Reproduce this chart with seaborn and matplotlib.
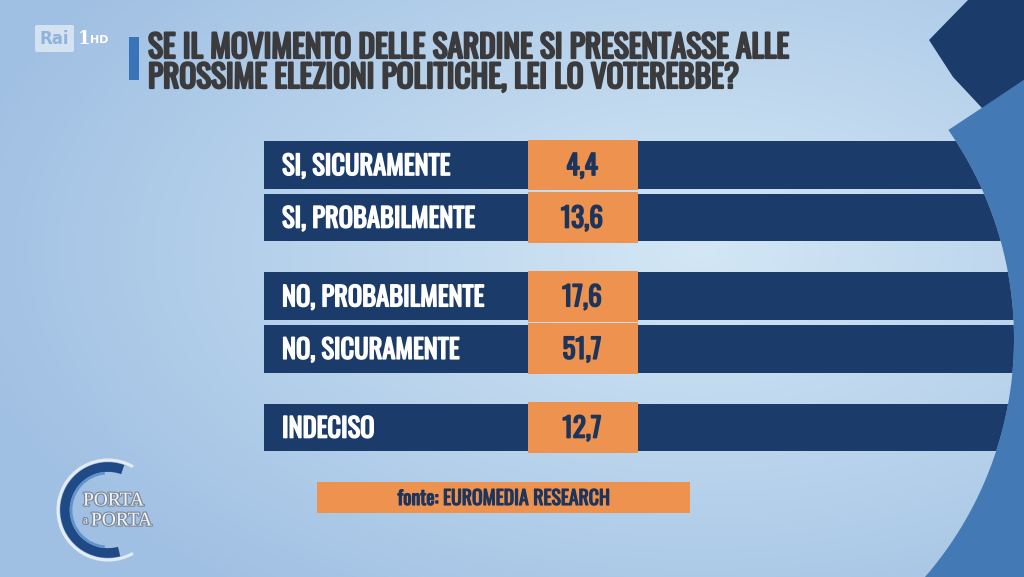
import numpy as np
import matplotlib
matplotlib.use("Agg")
import matplotlib.pyplot as plt
from matplotlib.patches import Rectangle, Polygon, Arc, FancyBboxPatch
from matplotlib.colors import to_rgb
import matplotlib.patheffects as pe
import seaborn as sns
import pandas as pd

# ---------------- data ----------------
categories = ["SI, SICURAMENTE", "SI, PROBABILMENTE", "NO, PROBABILMENTE",
              "NO, SICURAMENTE", "INDECISO"]
groups = ["SI", "SI", "NO", "NO", "INDECISO"]
values = [4.4, 13.6, 17.6, 51.7, 12.7]
title_lines = ["SE IL MOVIMENTO DELLE SARDINE SI PRESENTASSE ALLE",
               "PROSSIME ELEZIONI POLITICHE, LEI LO VOTEREBBE?"]
source = "fonte: EUROMEDIA RESEARCH"

# ---------------- style ----------------
NAVY = "#1b3b6b"
ORANGE = "#ee924f"
MIDBLUE = "#4379b4"
VALUE_TXT = "#1d355c"
TITLE_TXT = "#3b3b3d"

sns.set_theme(style="white")
COND = ["Oswald", "Fjalla One", "Roboto Condensed", "DejaVu Sans"]
plt.rcParams["font.family"] = COND


def heavy(color, lw):
    return [pe.withStroke(linewidth=lw, foreground=color)]


W, H = 1024, 577
fig = plt.figure(figsize=(W / 100, H / 100), dpi=100)
bg = fig.add_axes([0, 0, 1, 1])
bg.set_xlim(0, W)
bg.set_ylim(H, 0)
bg.axis("off")

# background radial gradient
yy, xx = np.mgrid[0:H, 0:W]
d = np.clip(np.sqrt(((xx - 700) / 760) ** 2 + ((yy - 250) / 430) ** 2), 0, 1)
c0 = np.array(to_rgb("#d3e7f5"))
c1 = np.array(to_rgb("#a0c0e3"))
img = c0[None, None, :] * (1 - d[..., None]) + c1[None, None, :] * d[..., None]
bg.imshow(img, extent=[0, W, H, 0], aspect="auto", zorder=0, interpolation="bilinear")

# right decorations: light circle boundary, medium blue area, navy wedge
ccx, ccy, cr = 650.0, 338.5, 364.0
ys = np.linspace(130, H, 80)
arc_x = ccx + np.sqrt(cr ** 2 - (ys - ccy) ** 2)
poly = [(W, 80)] + list(zip(arc_x, ys)) + [(W, H)]
bg.add_patch(Polygon(poly, closed=True, facecolor=MIDBLUE, edgecolor="none", zorder=1))
bg.add_patch(Polygon([(929, 40), (968, 0), (W, 0), (W, 80), (982, 108), (953, 77)],
                     closed=True, facecolor=NAVY, edgecolor="none", zorder=1))

# clip shape: everything left of the circle's right half
ang = np.linspace(-np.pi / 2, np.pi / 2, 200)
clip_pts = [(0, ccy - cr)] + list(zip(ccx + cr * np.cos(ang), ccy + cr * np.sin(ang))) + [(0, ccy + cr)]
clip = Polygon(clip_pts, closed=True, transform=bg.transData)

# ---------------- rows (seaborn bars) ----------------
positions = []
p = 0.0
for i, g in enumerate(groups):
    if i > 0:
        p += 1.0 if g == groups[i - 1] else 1.5
    positions.append(p)

pitch = 52.5
top_center = 165.0
y0_px = top_center - 0.5 * pitch
y1_px = top_center + (positions[-1] + 0.5) * pitch
x0_px = 264.0
span = W - x0_px
ax = fig.add_axes([x0_px / W, 1 - y1_px / H, span / W, (y1_px - y0_px) / H])

df = pd.DataFrame({"categoria": categories, "pos": positions,
                   "riga": [span] * len(categories), "valore": values})
sns.barplot(data=df, x="riga", y="pos", orient="h", native_scale=True,
            width=0.905, color=NAVY, saturation=1, errorbar=None, ax=ax,
            linewidth=0, edgecolor="none")
for patch in ax.patches:
    patch.set_clip_path(clip)

cell_x0, cell_x1 = 528.0, 638.0
ax.barh(df["pos"], width=cell_x1 - cell_x0, left=cell_x0 - x0_px, height=0.97,
        color=ORANGE, zorder=3, linewidth=0, edgecolor="none")
ax.set_xlim(0, span)
ax.set_ylim(positions[-1] + 0.5, -0.5)
ax.axis("off")

fig.canvas.draw()
renderer = fig.canvas.get_renderer()


def fit(t, target):
    w = t.get_window_extent(renderer=renderer).width
    t.set_fontsize(t.get_fontsize() * target / w)


cat_texts = []
for cat, pos in zip(categories, positions):
    t = ax.text(18, pos + 0.03, cat, color="white", ha="left", va="center",
                fontsize=22, fontweight="bold", zorder=5,
                path_effects=heavy("white", 1.1))
    cat_texts.append(t)
fit(cat_texts[2], 202)
for t in cat_texts:
    t.set_fontsize(cat_texts[2].get_fontsize())

val_texts = []
for v, pos in zip(values, positions):
    s = f"{v:.1f}".replace(".", ",")
    t = ax.text((cell_x0 + cell_x1) / 2 - x0_px - 1, pos + 0.03, s, color=VALUE_TXT,
                ha="center", va="center", fontsize=22, fontweight="bold", zorder=5,
                path_effects=heavy(VALUE_TXT, 1.1))
    val_texts.append(t)
fit(val_texts[3], 39)
for t in val_texts:
    t.set_fontsize(val_texts[3].get_fontsize())

# ---------------- title ----------------
bg.add_patch(Rectangle((129, 37), 10, 43, facecolor="#3a74b8", edgecolor="none", zorder=2))
t1 = bg.text(148, 58, title_lines[0], color=TITLE_TXT, ha="left", va="baseline",
             fontsize=24, fontweight="bold", zorder=3, path_effects=heavy(TITLE_TXT, 1.6))
t2 = bg.text(148, 88, title_lines[1], color=TITLE_TXT, ha="left", va="baseline",
             fontsize=24, fontweight="bold", zorder=3, path_effects=heavy(TITLE_TXT, 1.6))
fit(t1, 642)
t2.set_fontsize(t1.get_fontsize())

# ---------------- source ----------------
bg.add_patch(Rectangle((317, 482), 373, 31, facecolor=ORANGE, edgecolor="none", zorder=2))
ts = bg.text(504, 498, source, color=VALUE_TXT, ha="center", va="center",
             fontsize=14, fontweight="bold", zorder=3, path_effects=heavy(VALUE_TXT, 0.8))
fit(ts, 213)

# ---------------- logos ----------------
bg.add_patch(FancyBboxPatch((35, 25), 39, 27, boxstyle="round,pad=0,rounding_size=2",
                            facecolor="#dfe9f4", edgecolor="none", alpha=0.85, zorder=2))
bg.text(54.5, 39, "Rai", color="#8fb3da", ha="center", va="center", fontsize=12,
        fontweight="bold", family=["DejaVu Sans"], zorder=3)
bg.text(78, 39, "1", color="white", ha="left", va="center", fontsize=13,
        fontweight="bold", family=["DejaVu Serif"], zorder=3)
bg.text(90, 40, "HD", color="white", ha="left", va="center", fontsize=8,
        fontweight="bold", family=["DejaVu Sans"], zorder=3)

lc = (108, 510)
bg.add_patch(Arc(lc, 100, 100, theta1=60, theta2=300, color="#e4ebf3", lw=2.2, zorder=2))
bg.add_patch(Arc(lc, 86, 86, theta1=75, theta2=290, color="#1f4a86", lw=7, zorder=2))
bg.add_patch(Arc(lc, 74, 74, theta1=95, theta2=265, color="#5f93cb", lw=2, zorder=2))
stroke = [pe.withStroke(linewidth=1.8, foreground="#7f8a9a")]
serif = ["Liberation Serif", "DejaVu Serif"]
bg.text(83, 501, "PORTA", color="#f1f4f8", ha="left", va="center", fontsize=14,
        family=serif, zorder=3, path_effects=stroke)
bg.text(83, 521, "a", color="#f1f4f8", ha="left", va="center", fontsize=8,
        family=serif, zorder=3, path_effects=stroke)
bg.text(91, 521, "PORTA", color="#f1f4f8", ha="left", va="center", fontsize=14,
        family=serif, zorder=3, path_effects=stroke)

fig.savefig("out.png", dpi=100)
